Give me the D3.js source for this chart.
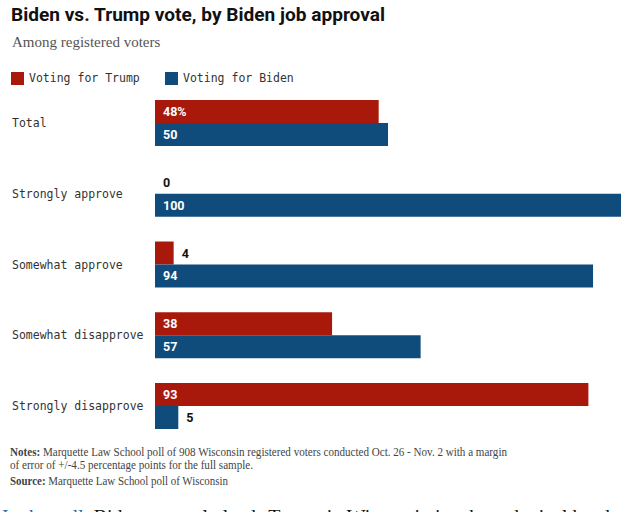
<!DOCTYPE html>
<html><head><meta charset="utf-8">
<script src="https://cdn.jsdelivr.net/npm/d3@7"></script>
<style>
html,body{margin:0;padding:0;background:#fff;}
svg{display:block;}
</style></head>
<body>
<script>
const categories = ["Total","Strongly approve","Somewhat approve","Somewhat disapprove","Strongly disapprove"];
const trump = [48, 0, 4, 38, 93];
const biden = [50, 100, 94, 57, 5];
const seriesNames = ["Voting for Trump","Voting for Biden"];
const valueSuffix = ["%","","","",""];

const W = 640, H = 512;
const red = "#a8190c", blue = "#0f4c7c";
const mono = "'DejaVu Sans Mono', monospace";
const serif = "'Liberation Serif', 'DejaVu Serif', serif";
const sans = "Roboto, 'Liberation Sans', sans-serif";

const svg = d3.select("body").append("svg").attr("width", W).attr("height", H);

svg.append("text").attr("x", 11).attr("y", 21)
  .attr("font-family", sans).attr("font-weight", 700).attr("font-size", 19)
  .attr("fill", "#111").attr("textLength", 374).attr("lengthAdjust", "spacingAndGlyphs")
  .text("Biden vs. Trump vote, by Biden job approval");
svg.append("text").attr("x", 12).attr("y", 47)
  .attr("font-family", serif).attr("font-size", 15).attr("fill", "#555")
  .text("Among registered voters");

// legend
const legX = [11, 165];
seriesNames.forEach((n, i) => {
  svg.append("rect").attr("x", legX[i]).attr("y", 72).attr("width", 13).attr("height", 13)
    .attr("fill", i ? blue : red);
  svg.append("text").attr("x", legX[i] + 18).attr("y", 82)
    .attr("font-family", mono).attr("font-size", 11.5).attr("fill", "#333")
    .text(n);
});

const x = d3.scaleLinear().domain([0, 100]).range([155, 621]);
const y = d3.scaleBand().domain(categories).range([100, 429]).paddingInner(0.35).paddingOuter(0);
const sub = d3.scaleBand().domain(["t","b"]).range([0, y.bandwidth()]);

const g = svg.append("g");
categories.forEach((c, i) => {
  const y0 = y(c);
  svg.append("text").attr("x", 12).attr("y", y0 + y.bandwidth() / 2 + 4)
    .attr("font-family", mono).attr("font-size", 11.5).attr("fill", "#333").text(c);
  [["t", trump[i], red], ["b", biden[i], blue]].forEach(([k, v, col]) => {
    const by = y0 + sub(k);
    if (v > 0) g.append("rect").attr("x", x(0)).attr("y", by)
      .attr("width", x(v) - x(0)).attr("height", sub.bandwidth()).attr("fill", col);
    const inside = v >= 10;
    g.append("text")
      .attr("x", inside ? x(0) + 8 : (v > 0 ? x(v) + 8 : x(0) + 8))
      .attr("y", by + sub.bandwidth() / 2 + 4.5)
      .attr("font-family", sans).attr("font-weight", 700).attr("font-size", 12.5)
      .attr("fill", inside ? "#fff" : "#111")
      .text(v + (k === "t" ? valueSuffix[i] : ""));
  });
});

// notes
const notes = svg.append("g").attr("font-family", serif).attr("font-size", 12).attr("fill", "#444");
const n1 = notes.append("text").attr("x", 10).attr("y", 456)
  .attr("textLength", 497).attr("lengthAdjust", "spacingAndGlyphs");
n1.append("tspan").attr("font-weight", 700).text("Notes: ");
n1.append("tspan").text("Marquette Law School poll of 908 Wisconsin registered voters conducted Oct. 26 - Nov. 2 with a margin");
notes.append("text").attr("x", 10).attr("y", 469)
  .attr("textLength", 243).attr("lengthAdjust", "spacingAndGlyphs")
  .text("of error of +/-4.5 percentage points for the full sample.");
const n3 = notes.append("text").attr("x", 10).attr("y", 485)
  .attr("textLength", 218).attr("lengthAdjust", "spacingAndGlyphs");
n3.append("tspan").attr("font-weight", 700).text("Source: ");
n3.append("tspan").text("Marquette Law School poll of Wisconsin");

const bt = svg.append("text").attr("x", 2).attr("y", 523)
  .attr("font-family", serif).attr("font-size", 19).attr("fill", "#111")
  .attr("textLength", 630).attr("lengthAdjust", "spacingAndGlyphs");
bt.append("tspan").attr("fill", "#1a6fb0").text("In the poll, ");
bt.append("tspan").text("Biden narrowly leads Trump in Wisconsin in a hypothetical head-to");
</script>
</body></html>
